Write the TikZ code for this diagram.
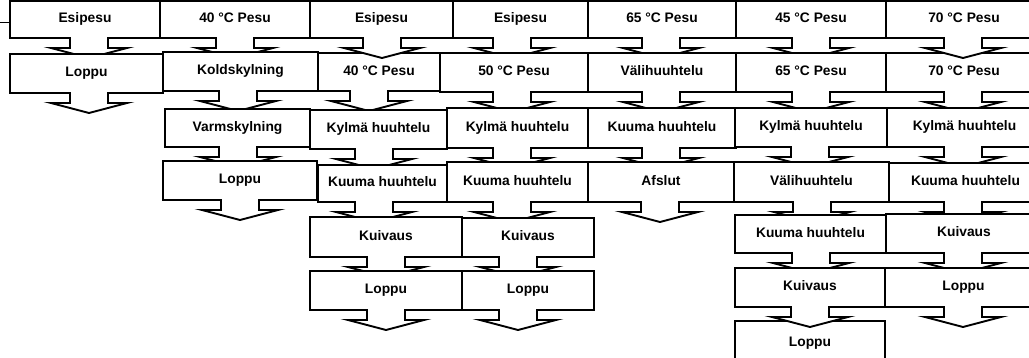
\documentclass[tikz,border=0pt]{standalone}
\usepackage{fontspec}
\setmainfont{Liberation Sans}
\tikzset{
  cout/.style={draw=black, fill=white, line width=1.9pt},
  lbl/.style={inner sep=0pt, outer sep=0pt, font=\fontsize{13.8}{16}\selectfont\bfseries, text height=9.9pt, text depth=2.9pt, align=center},
  stubline/.style={draw=black, line width=1.9pt}
}
% #1 name, #2 left, #3 right, #4 top, #5 bottom, #6 arrow centre, #7 text
\newcommand\callbox[7]{%
  \draw[cout] (#2,#4) -- (#3,#4) -- (#3,#5) -- ({#6+19},#5) -- ({#6+19},{#5+10}) -- ({#6+38},{#5+10}) -- (#6,{#5+20}) -- ({#6-38},{#5+10}) -- ({#6-19},{#5+10}) -- ({#6-19},#5) -- (#2,#5) -- cycle;
  \node[lbl, minimum width={(#3-#2)*1pt}, minimum height={(#5-#4)*1pt}] (#1) at ({(#2+#3)/2},{(#4+#5)/2}) {#7};
}
\begin{document}
\begin{tikzpicture}[x=1pt,y=-1pt]
\useasboundingbox (0,0) rectangle (1029,358);
\fill[white] (0,0) rectangle (1029,358);
\clip (0,0) rectangle (1029,358);
% boxes whose tops lie under the heads of the row above
\callbox{c2}{318}{440}{53}{91}{369}{40 °C Pesu}
\callbox{g2}{886}{1042}{53}{92}{963}{70 °C Pesu}
% row 1
\callbox{a1}{10}{160}{1}{38}{89}{Esipesu}
\callbox{b1}{160}{310}{1}{38}{235}{40 °C Pesu}
\callbox{c1}{310}{453}{1}{38}{382}{Esipesu}
\callbox{d1}{453}{588}{1}{38}{512}{Esipesu}
\callbox{e1}{588}{736}{1}{38}{661}{65 °C Pesu}
\callbox{f1}{736}{886}{1}{38}{811}{45 °C Pesu}
\callbox{g1}{886}{1042}{1}{38}{963}{70 °C Pesu}
% row 2
\callbox{a2}{10}{163}{54}{93}{89}{Loppu}
\callbox{b2}{163}{318}{52}{91}{238}{Koldskylning}
\callbox{d2}{440}{588}{53}{92}{512}{50 °C Pesu}
\callbox{e2}{588}{736}{53}{92}{661}{Välihuuhtelu}
\callbox{f2}{736}{886}{53}{92}{811}{65 °C Pesu}
% row 3
\callbox{b3}{165}{310}{109}{147}{238}{Varmskylning}
\callbox{c3}{310}{447}{110}{149}{374}{Kylmä huuhtelu}
\callbox{d3}{447}{588}{108}{148}{512}{Kylmä huuhtelu}
\callbox{e3}{588}{736}{108}{148}{661}{Kuuma huuhtelu}
\callbox{f3}{735}{887}{108}{147}{810}{Kylmä huuhtelu}
\callbox{g3}{887}{1042}{108}{147}{963}{Kylmä huuhtelu}
% row 4
\callbox{b4}{163}{317}{161}{200}{240}{Loppu}
\callbox{c4}{318}{447}{165}{202}{374}{Kuuma huuhtelu}
\callbox{d4}{447}{588}{162}{202}{512}{Kuuma huuhtelu}
\callbox{e4}{588}{734}{162}{202}{660}{Afslut}
\callbox{f4}{734}{889}{162}{202}{812}{Välihuuhtelu}
\callbox{g4}{889}{1042}{163}{202}{963}{Kuuma huuhtelu}
% row 5
\callbox{c5}{310}{462}{217}{257}{386}{Kuivaus}
\callbox{d5}{462}{594}{218}{257}{518}{Kuivaus}
\callbox{f5}{735}{886}{215}{253}{811}{Kuuma huuhtelu}
\callbox{g5}{886}{1042}{214}{253}{963}{Kuivaus}
% row 7 (under the head of row 6)
\callbox{f7}{735}{885}{321}{365}{810}{Loppu}
% row 6
\callbox{c6}{310}{462}{271}{310}{386}{Loppu}
\callbox{d6}{462}{594}{271}{310}{518}{Loppu}
\callbox{f6}{735}{885}{268}{307}{810}{Kuivaus}
\callbox{g6}{885}{1042}{268}{307}{963}{Loppu}
% stub at the left
\coordinate (stub) at (0,22.5);
\draw[stubline] (stub) -- (stub -| a1.west);
\end{tikzpicture}
\end{document}
